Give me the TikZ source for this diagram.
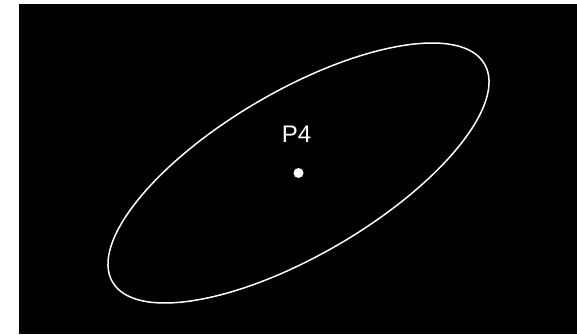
\documentclass[tikz,border=0pt]{standalone}
\usepackage{fontspec}
\setmainfont{Liberation Sans}
\begin{document}
\begin{tikzpicture}[x=1pt,y=-1pt,
  curve/.style={draw=white,line width=1.5pt},
  lbl/.style={text=white,font=\fontsize{24}{28}\selectfont,inner sep=0pt},
  dotmark/.style={fill=white,circle,minimum size=10pt,inner sep=0pt}]
\useasboundingbox (0,0) rectangle (577,334);
\fill[white] (0,0) rectangle (577,334);
\fill[black] (19,4) rectangle (577,334);
\coordinate (c) at (298.5,173);
\draw[curve] (c) ellipse[x radius=215.6, y radius=81.9, rotate=30.4];
\node[dotmark] (p) at (c) {};
\node[lbl] (t) at (296.5,134) {P4};
\end{tikzpicture}
\end{document}
